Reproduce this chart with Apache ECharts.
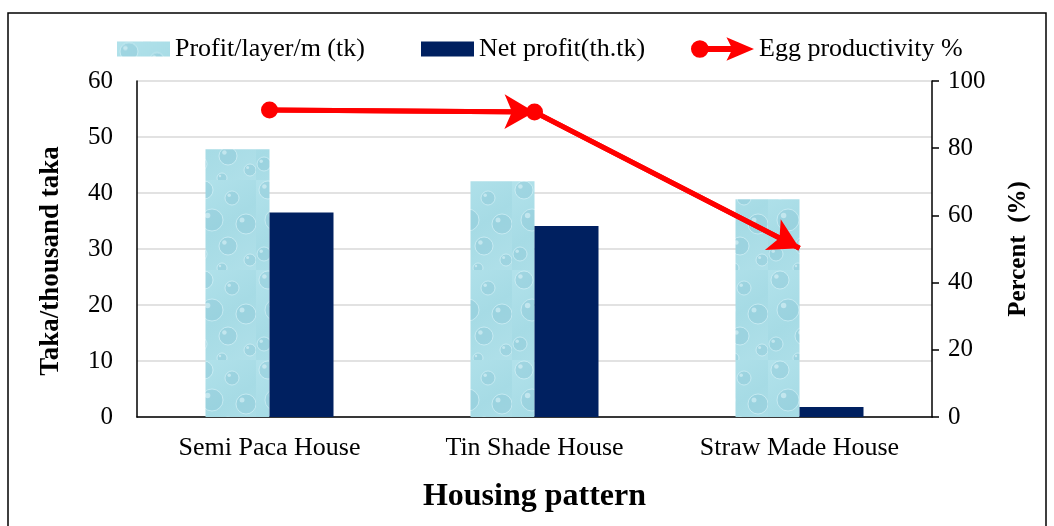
<!DOCTYPE html>
<html>
<head>
<meta charset="utf-8">
<script src="https://cdn.jsdelivr.net/npm/echarts@6/dist/echarts.min.js"></script>
<style>
html, body { margin: 0; padding: 0; background: #fff; }
#main { width: 1054px; height: 526px; }
</style>
</head>
<body>
<div id="main"></div>
<script>
// housing patterns and values
var categories = ['Semi Paca House', 'Tin Shade House', 'Straw Made House'];
var profitPerLayer = [47.8, 42.1, 38.9];
var netProfit = [36.5, 34.1, 1.8];
var eggProductivity = [91.4, 90.8, 50.2];
var leftTicks = [0, 60, 10];
var rightTicks = [0, 100, 20];

var FONT = '"Liberation Serif", "Times New Roman", serif';

// water drop texture for the first series
function dropTexture() {
	var cv = document.createElement('canvas');
	cv.width = 64;
	cv.height = 90;
	var ctx = cv.getContext('2d');
	var g = ctx.createLinearGradient(0, 0, 64, 90);
	g.addColorStop(0, '#b2e2eb');
	g.addColorStop(0.5, '#a6dbe5');
	g.addColorStop(1, '#b0e0e9');
	ctx.fillStyle = g;
	ctx.fillRect(0, 0, 64, 90);
	var drops = [[12, 10, 9], [40, 18, 7], [54, 44, 10], [20, 40, 11], [36, 66, 9], [8, 74, 7], [58, 80, 6], [30, 88, 5]];
	drops.forEach(function (d) {
		ctx.beginPath();
		ctx.arc(d[0], d[1], d[2], 0, Math.PI * 2);
		ctx.fillStyle = 'rgba(140,200,214,0.45)';
		ctx.fill();
		ctx.lineWidth = 1;
		ctx.strokeStyle = 'rgba(220,245,250,0.6)';
		ctx.stroke();
		ctx.beginPath();
		ctx.arc(d[0] - d[2] * 0.4, d[1] - d[2] * 0.4, d[2] * 0.25, 0, Math.PI * 2);
		ctx.fillStyle = 'rgba(225,246,250,0.55)';
		ctx.fill();
	});
	return cv;
}
var texture = { image: dropTexture(), repeat: 'repeat' };

var arrowIcon = 'path://M0,13 A9,9 0 1,1 18,13 A9,9 0 1,1 0,13 Z M9,10 L44,10 L44,16 L9,16 Z M36,1 L64,13 L36,25 L42,13 Z';

var segs = [];
for (var i = 0; i < categories.length - 1; i++) {
	segs.push([
		{ coord: [categories[i], eggProductivity[i]] },
		{ coord: [categories[i + 1], eggProductivity[i + 1]] }
	]);
}

var chart = echarts.init(document.getElementById('main'));
var legendText = { fontFamily: FONT, fontSize: 26, color: '#000' };
chart.setOption({
	animation: false,
	textStyle: { fontFamily: FONT },
	graphic: [{
		type: 'rect',
		shape: { x: 8, y: 13, width: 1038, height: 540 },
		style: { fill: 'none', stroke: '#000', lineWidth: 1.5 },
		silent: true
	}],
	legend: [
		{ left: 112, top: 31, itemWidth: 53, itemHeight: 15, icon: 'rect', itemGap: 4, textStyle: legendText, data: ['Profit/layer/m (tk)'] },
		{ left: 416, top: 31, itemWidth: 53, itemHeight: 15, icon: 'rect', itemGap: 4, textStyle: legendText, data: ['Net profit(th.tk)'] },
		{ left: 686, top: 31, itemWidth: 63, itemHeight: 26, icon: arrowIcon, itemGap: 4, textStyle: legendText, data: ['Egg productivity %'] }
	],
	grid: { left: 137, right: 122, top: 81, bottom: 109 },
	xAxis: {
		type: 'category',
		data: categories,
		name: 'Housing pattern',
		nameLocation: 'middle',
		nameGap: 64,
		nameTextStyle: { fontFamily: FONT, fontSize: 32, fontWeight: 'bold', color: '#000' },
		axisLine: { lineStyle: { color: '#000', width: 1.5 } },
		axisTick: { show: false },
		axisLabel: { fontFamily: FONT, fontSize: 26, color: '#000', margin: 18 }
	},
	yAxis: [{
		type: 'value',
		min: leftTicks[0], max: leftTicks[1], interval: leftTicks[2],
		name: 'Taka/thousand taka',
		nameLocation: 'middle',
		nameGap: 72,
		nameTextStyle: { fontFamily: FONT, fontSize: 27, fontWeight: 'bold', color: '#000', padding: [0, 24, 0, 0] },
		axisLine: { show: true, lineStyle: { color: '#000', width: 1.5 } },
		axisTick: { show: false },
		axisLabel: { fontFamily: FONT, fontSize: 25, color: '#000', margin: 24 },
		splitLine: { lineStyle: { color: '#d9d9d9', width: 1.5 } }
	}, {
		type: 'value',
		min: rightTicks[0], max: rightTicks[1], interval: rightTicks[2],
		name: 'Percent  (%)',
		nameLocation: 'middle',
		nameGap: 74,
		nameRotate: 90,
		nameTextStyle: { fontFamily: FONT, fontSize: 25, fontWeight: 'bold', color: '#000' },
		axisLine: { show: true, lineStyle: { color: '#000', width: 1.5 } },
		axisTick: { show: true, length: 7, lineStyle: { color: '#000', width: 1.5 } },
		axisLabel: { fontFamily: FONT, fontSize: 25, color: '#000', margin: 16 },
		splitLine: { show: false }
	}],
	series: [{
		name: 'Profit/layer/m (tk)',
		type: 'bar',
		barWidth: 64,
		barGap: '0%',
		itemStyle: { color: texture },
		data: profitPerLayer
	}, {
		name: 'Net profit(th.tk)',
		type: 'bar',
		barWidth: 64,
		barGap: '0%',
		itemStyle: { color: '#002060' },
		data: netProfit
	}, {
		name: 'Egg productivity %',
		type: 'line',
		yAxisIndex: 1,
		z: 5,
		lineStyle: { color: '#ff0000', width: 5 },
		itemStyle: { color: '#ff0000' },
		symbol: 'circle',
		symbolSize: 17,
		data: eggProductivity.map(function (v, k) {
			return k === eggProductivity.length - 1 ? { value: v, symbol: 'none' } : v;
		}),
		markLine: {
			silent: true,
			symbol: ['none', 'arrow'],
			symbolSize: [26, 30],
			label: { show: false },
			lineStyle: { color: '#ff0000', width: 5, type: 'solid' },
			emphasis: { disabled: true },
			data: segs
		}
	}]
});
</script>
</body>
</html>
